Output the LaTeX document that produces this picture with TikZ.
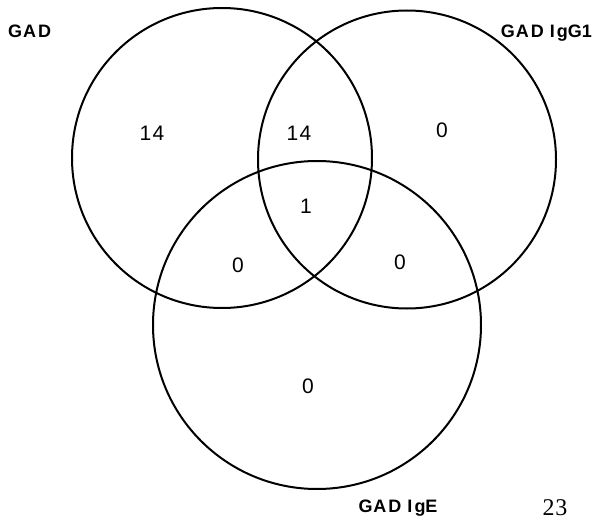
\documentclass[tikz,border=0pt]{standalone}
\usepackage{fontspec}
\setmainfont{Liberation Sans}
\newfontfamily\serifnum{Liberation Serif}
\begin{document}
\begin{tikzpicture}[x=1pt,y=-1pt,
  venn/.style={circle,draw,line width=2pt,inner sep=0pt,minimum size=#1},
  setlabel/.style={font=\bfseries\fontsize{18}{21}\selectfont,inner sep=0pt},
  count/.style={font=\fontsize{21}{25}\selectfont,inner sep=0pt,anchor=base}]
\useasboundingbox (0,0) rectangle (595,519);
\node[venn=300pt] (gad) at (222,158) {};
\node[venn=298pt] (igg) at (407,159.5) {};
\node[venn=328pt] (ige) at (317,325) {};
\node[setlabel,anchor=base west] (lgad) at (8,38) {G\kern1ptA\kern2ptD};
\node[setlabel,anchor=base east] (ligg) at (592,38) {G\kern1ptA\kern2ptD\kern6pt I\kern2ptgG1};
\node[setlabel,anchor=base] (lige) at (398,512) {G\kern1ptA\kern2ptD\kern6pt I\kern2ptgE};
\node[inner sep=0pt,anchor=base,font=\serifnum\fontsize{24}{28}\selectfont] (page) at (555,515) {2\kern1pt3};
\node[count] (n1) at (152,140) {1\kern1.5pt4};
\node[count] (n2) at (299,140) {1\kern1.5pt4};
\node[count] (n3) at (442,137) {0};
\node[count] (n4) at (306,213) {1};
\node[count] (n5) at (238,272) {0};
\node[count] (n6) at (400,269) {0};
\node[count] (n7) at (308,393) {0};
\end{tikzpicture}
\end{document}
